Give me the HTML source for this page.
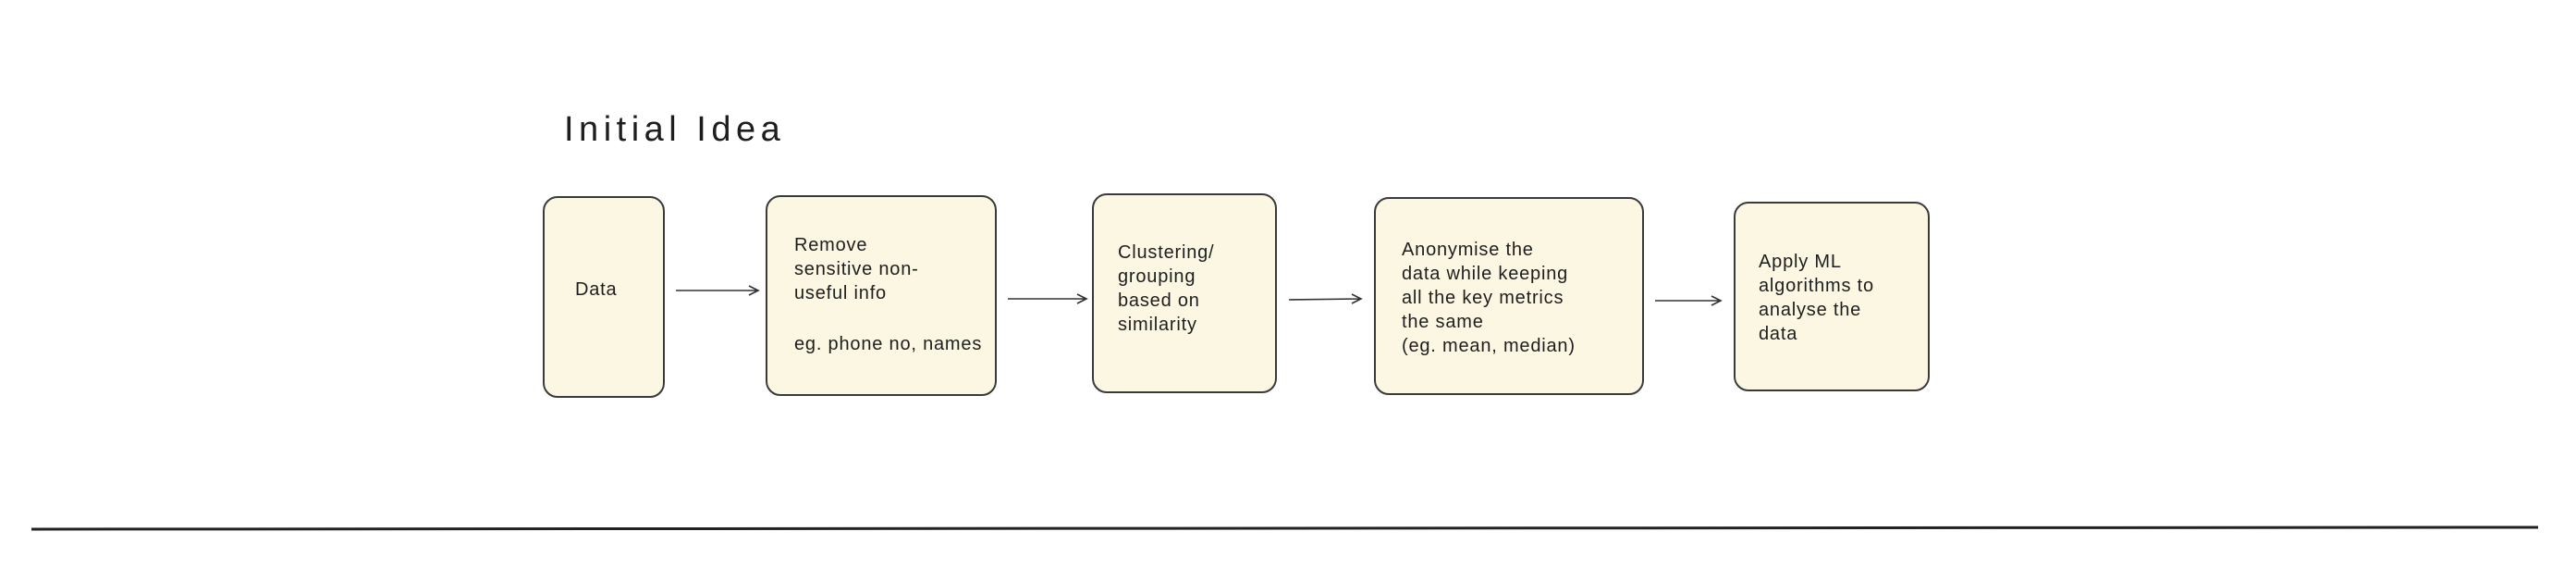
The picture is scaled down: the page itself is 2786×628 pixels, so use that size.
<!DOCTYPE html>
<html><head><meta charset="utf-8"><style>
html,body{margin:0;padding:0;background:#fff;}
body{width:2786px;height:628px;position:relative;overflow:hidden;font-family:"Liberation Sans",sans-serif;color:#1e1e1e;}
.b{position:absolute;background:#fbf7e2;border:2px solid #3a3a3a;border-radius:16px;box-sizing:border-box;}
.t{position:absolute;font-size:20px;line-height:26px;white-space:pre;letter-spacing:0.8px;}
</style></head><body>
<div class="t" style="left:610px;top:118px;font-size:38px;line-height:44px;letter-spacing:5.5px;">Initial Idea</div>

<div class="b" style="left:587px;top:212px;width:132px;height:218px;"></div>
<div class="b" style="left:828px;top:211px;width:250px;height:217px;"></div>
<div class="b" style="left:1181px;top:209px;width:200px;height:216px;"></div>
<div class="b" style="left:1486px;top:213px;width:292px;height:214px;"></div>
<div class="b" style="left:1875px;top:218px;width:212px;height:205px;"></div>

<div class="t" style="left:622px;top:300px;">Data</div>
<div class="t" style="left:859px;top:252px;">Remove
sensitive non-
useful info</div>
<div class="t" style="left:859px;top:359px;">eg. phone no, names</div>
<div class="t" style="left:1209px;top:260px;">Clustering/
grouping
based on
similarity</div>
<div class="t" style="left:1516px;top:257px;">Anonymise the
data while keeping
all the key metrics
the same
(eg. mean, median)</div>
<div class="t" style="left:1902px;top:270px;">Apply ML
algorithms to
analyse the
data</div>

<svg width="2786" height="628" style="position:absolute;left:0;top:0" fill="none" stroke="#333" stroke-width="1.6">
<path d="M731 314 L820 314 M810 309 L820 314 L810 319"/>
<path d="M1090 323 L1175 323 M1165 318 L1175 323 L1165 328"/>
<path d="M1394 324 L1472 323 M1462 318 L1472 323 L1462 328"/>
<path d="M1790 325 L1861 325 M1851 320 L1861 325 L1851 330"/>
<path d="M34 572 L2745 570" stroke="#222" stroke-width="3"/>
</svg>
</body></html>
